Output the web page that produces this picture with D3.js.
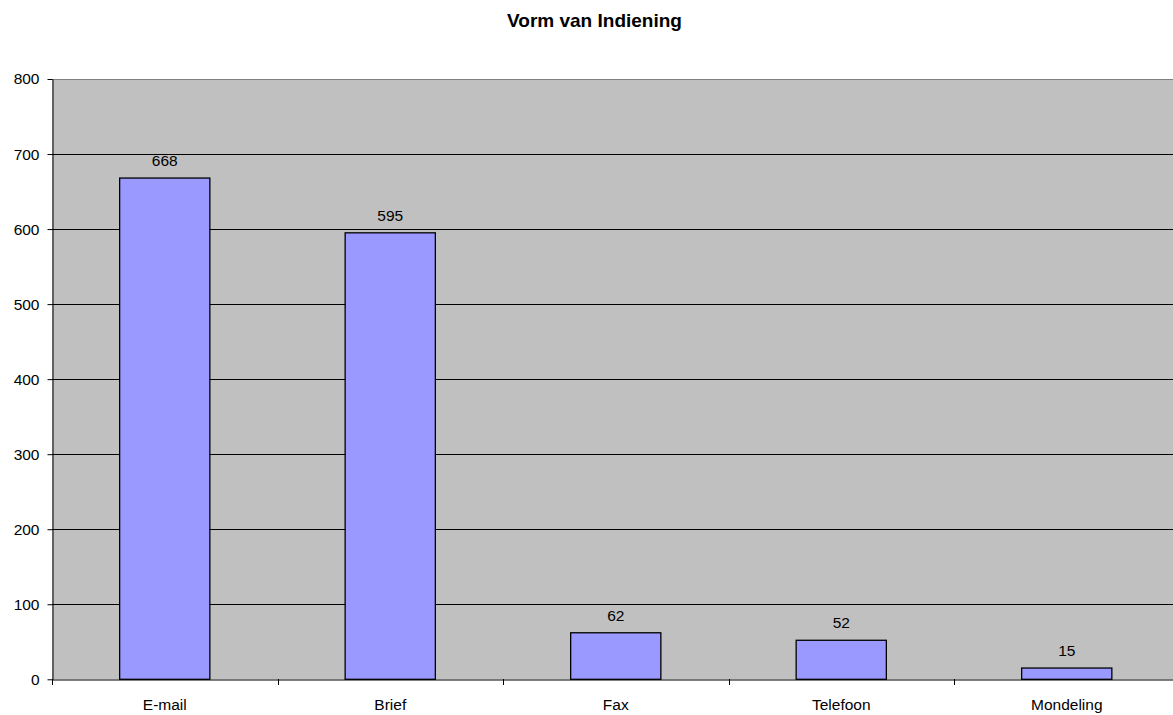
<!DOCTYPE html>
<html>
<head>
<meta charset="utf-8">
<script src="https://cdn.jsdelivr.net/npm/d3@7"></script>
<style>
  html, body { margin: 0; padding: 0; background: #ffffff; }
  svg { display: block; }
  text { font-family: "Liberation Sans", Arial, sans-serif; fill: #000; }
</style>
</head>
<body>
<svg id="chart" width="1173" height="715"></svg>
<script>
// Submission channels and their counts
const categories = ["E-mail", "Brief", "Fax", "Telefoon", "Mondeling"];
const counts = [668, 595, 62, 52, 15];
const yTicks = [0, 100, 200, 300, 400, 500, 600, 700, 800];
const title = "Vorm van Indiening";

const svg = d3.select("#chart");
const W = 1173, H = 715;
const plot = { left: 52, top: 79, right: 1179.5, bottom: 679.3 };

const x = d3.scaleBand()
  .domain(categories)
  .range([plot.left, plot.right])
  .paddingInner(0.6)
  .paddingOuter(0.3);

const y = d3.scaleLinear()
  .domain([0, 800])
  .range([plot.bottom, plot.top]);

// Plot background
svg.append("rect")
  .attr("x", plot.left)
  .attr("y", plot.top)
  .attr("width", plot.right - plot.left)
  .attr("height", plot.bottom - plot.top)
  .attr("fill", "#c0c0c0");

// Horizontal gridlines
svg.append("g")
  .selectAll("line")
  .data(yTicks.filter(d => d > 0 && d < 800))
  .join("line")
  .attr("x1", plot.left)
  .attr("x2", plot.right)
  .attr("y1", d => Math.round(y(d)) + 0.5)
  .attr("y2", d => Math.round(y(d)) + 0.5)
  .attr("stroke", "#000")
  .attr("stroke-width", 1);

// Top border of the plot area
svg.append("line")
  .attr("x1", plot.left).attr("x2", plot.right)
  .attr("y1", Math.round(y(800)) + 0.5).attr("y2", Math.round(y(800)) + 0.5)
  .attr("stroke", "#808080")
  .attr("stroke-width", 1);

// Bars
svg.append("g")
  .selectAll("rect")
  .data(categories.map((c, i) => ({ c, v: counts[i] })))
  .join("rect")
  .attr("x", d => x(d.c))
  .attr("y", d => y(d.v))
  .attr("width", x.bandwidth())
  .attr("height", d => y(0) - y(d.v))
  .attr("fill", "#9999ff")
  .attr("stroke", "#000")
  .attr("stroke-width", 1.3);

// Value labels above bars
svg.append("g")
  .selectAll("text")
  .data(categories.map((c, i) => ({ c, v: counts[i] })))
  .join("text")
  .attr("x", d => x(d.c) + x.bandwidth() / 2)
  .attr("y", d => y(d.v) - 12)
  .attr("text-anchor", "middle")
  .style("font-size", "15.5px")
  .text(d => d.v);

// Y axis
const yAxis = svg.append("g")
  .attr("transform", `translate(${plot.left + 0.5},0)`)
  .call(d3.axisLeft(y).tickValues(yTicks).tickSize(5).tickPadding(8).tickSizeOuter(0));
yAxis.select(".domain").attr("stroke", "#000");
yAxis.selectAll(".tick line").attr("stroke", "#000");
yAxis.selectAll("text").style("font-size", "15.5px").attr("fill", "#000");

// X axis: labels centred in each band
const xAxis = svg.append("g")
  .attr("transform", `translate(0,${Math.round(plot.bottom) + 0.5})`)
  .call(d3.axisBottom(x).tickSize(0).tickPadding(19).tickSizeOuter(0));
xAxis.select(".domain").attr("stroke", "#000");
xAxis.selectAll("text").style("font-size", "15.5px").attr("fill", "#000");

// X axis tick marks on the band boundaries
const edgeOffset = x.step() * x.paddingOuter();
const boundaries = categories.map(c => x(c) - edgeOffset).concat([plot.right]);
svg.append("g")
  .selectAll("line")
  .data(boundaries)
  .join("line")
  .attr("x1", d => Math.round(d) + 0.5)
  .attr("x2", d => Math.round(d) + 0.5)
  .attr("y1", Math.round(plot.bottom))
  .attr("y2", Math.round(plot.bottom) + 6)
  .attr("stroke", "#000");

// Title
svg.append("text")
  .attr("x", 594.5)
  .attr("y", 27)
  .attr("text-anchor", "middle")
  .style("font-size", "19px")
  .style("font-weight", "bold")
  .text(title);
</script>
</body>
</html>
